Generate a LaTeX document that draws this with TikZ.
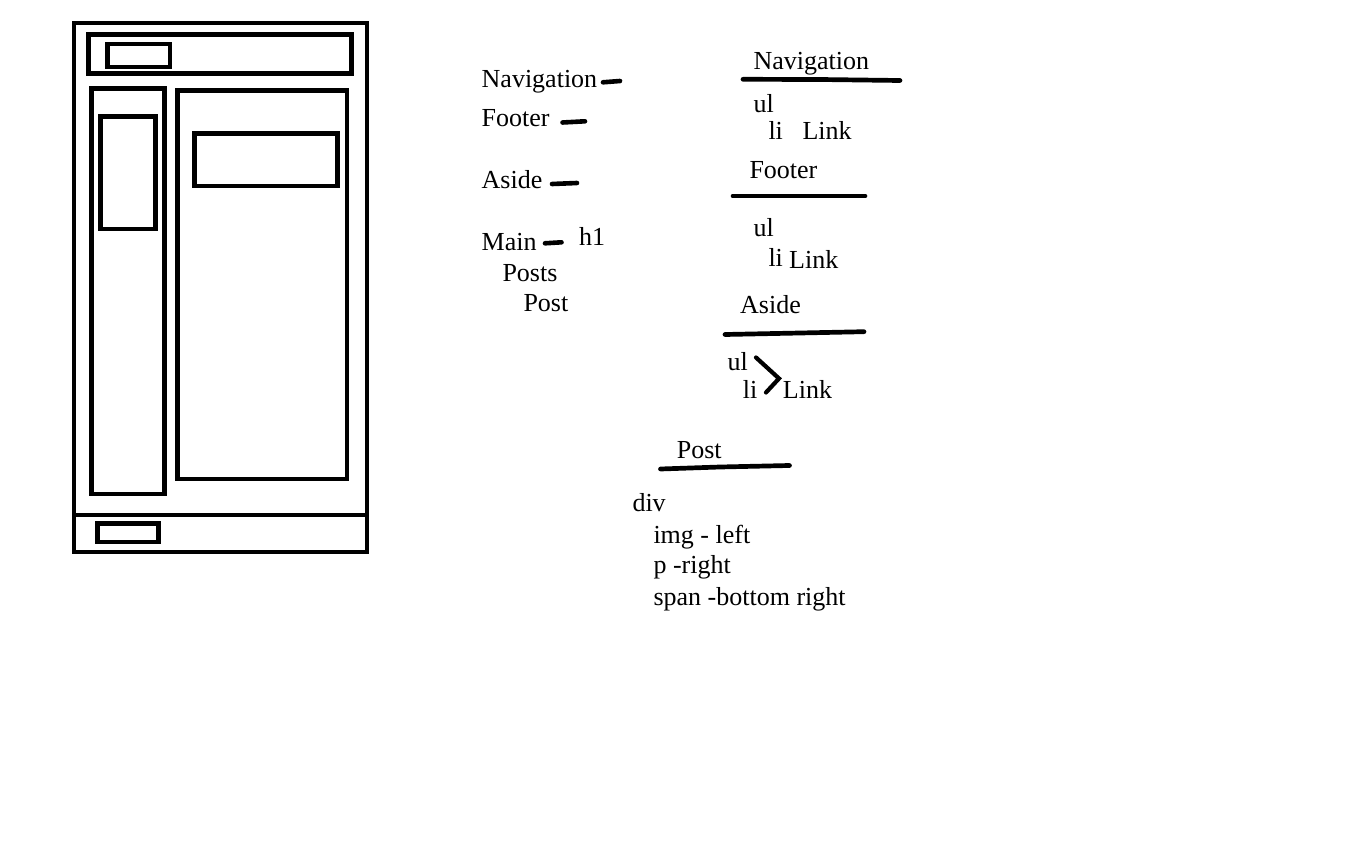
\documentclass[tikz,border=0pt]{standalone}
\usepackage{fontspec}
\setmainfont{Liberation Serif}
\begin{document}
\begin{tikzpicture}[x=1pt,y=-1pt,
  box/.style={draw=black,line width=4.7pt},
  txt/.style={anchor=base west,inner sep=0pt,font=\fontsize{26pt}{30pt}\selectfont},
  dashmark/.style={line width=4.6pt,line cap=round},
  rule/.style={line width=4.7pt,line cap=round}]
\useasboundingbox[fill=white] (0,0) rectangle (1345,864);
% wireframe
\draw[box] (74,23) rectangle (367,515);
\draw[box] (74,515) rectangle (367,552);
\draw[box] (88.5,34.5) rectangle (351.5,73.5);
\draw[box] (107.5,44) rectangle (170,67);
\draw[box] (91.7,88.5) rectangle (164.5,494);
\draw[box] (100.7,116.5) rectangle (155.5,229);
\draw[box] (177.5,90.5) rectangle (347,479);
\draw[box] (194.7,133.5) rectangle (337.5,186);
\draw[box] (97.5,523.5) rectangle (158.5,542);
% left list
\node[txt] (lnav) at (481.5,87.3) {Navigation};
\node[txt] (lfoot) at (481.5,126.7) {Footer};
\node[txt] (laside) at (481.5,188.3) {Aside};
\node[txt] (lmain) at (481.5,250) {Main};
\node[txt] (lh1) at (579,245) {h1};
\node[txt] (lposts) at (502.3,281.7) {Posts};
\node[txt] (lpost) at (523.3,311.7) {Post};
\draw[dashmark] (603,82.3) -- (620,81);
\draw[dashmark] (562.5,122.5) -- (585,121.3);
\draw[dashmark] (552,184) -- (577,183);
\draw[dashmark] (545,243.3) -- (561.5,242.3);
% navigation block
\node[txt] (rnav) at (753.3,69.3) {Navigation};
\draw[rule] (743,79.3) -- (820,79.5) -- (900,80.5);
\node[txt] (nul) at (753.3,112.7) {ul};
\node[txt] (nli) at (768.3,139.3) {li};
\node[txt] (nlink) at (802.3,139.3) {Link};
% footer block
\node[txt] (rfoot) at (749.3,178.3) {Footer};
\draw[rule] (733,196) -- (865,196);
\node[txt] (ful) at (753.3,236.7) {ul};
\node[txt] (fli) at (768.3,266.7) {li};
\node[txt] (flink) at (789,268.5) {Link};
% aside block
\node[txt] (raside) at (740,313.3) {Aside};
\draw[rule] (725,334.5) -- (800,333) -- (864,331.7);
\node[txt] (aul) at (727.3,370) {ul};
\node[txt] (ali) at (742.7,398.3) {li};
\node[txt] (alink) at (782.7,398.3) {Link};
\coordinate (ajoin) at (779,378.5);
\draw[line width=4.2pt,line cap=round] (756,357.5) -- (ajoin) -- (766,392.5);
% post block
\node[txt] (rpost) at (676.7,458.3) {Post};
\draw[rule] (660.5,469) -- (720,467) -- (789.5,465.5);
\node[txt] (pdiv) at (632.3,511.7) {div};
\node[txt] (pimg) at (653.3,543.3) {img - left};
\node[txt] (pp) at (653.3,573.3) {p -right};
\node[txt] (pspan) at (653.3,605) {span -bottom right};
\end{tikzpicture}
\end{document}
